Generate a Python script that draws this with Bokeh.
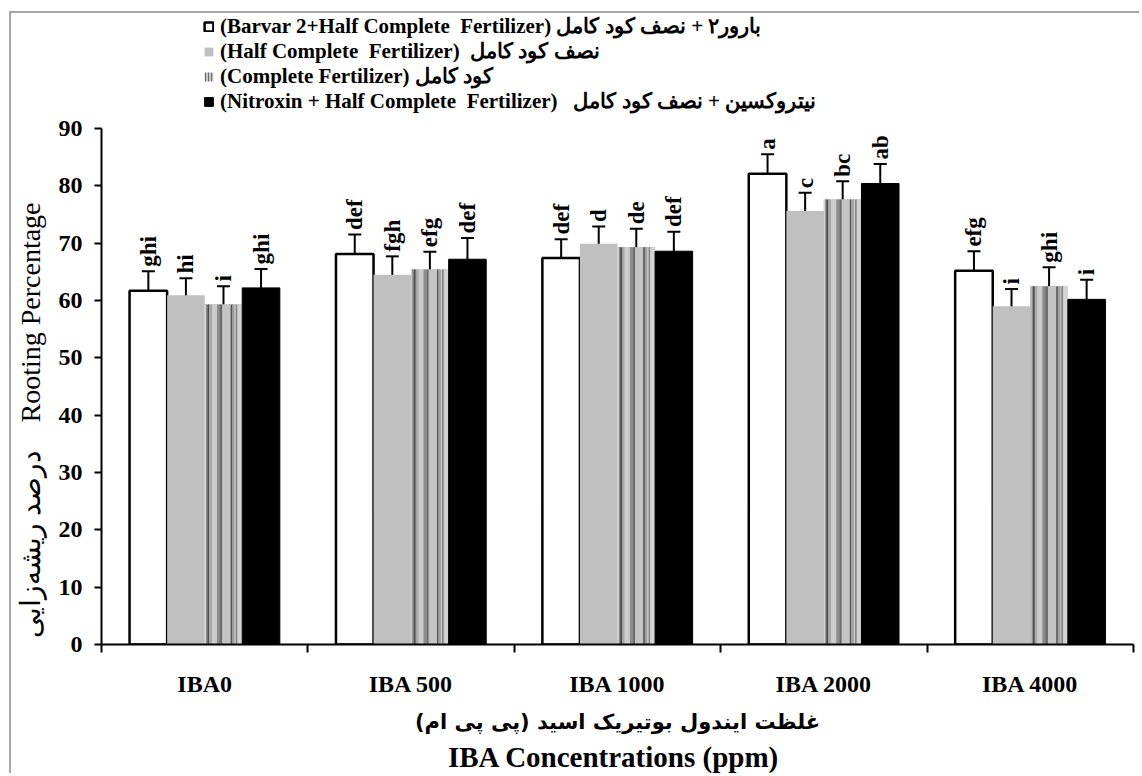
from math import pi
from bokeh.plotting import figure
from bokeh.models import (ColumnDataSource, Range1d, LinearAxis, FixedTicker, Whisker, TeeHead,
                          Legend, LegendItem)
from bokeh.transform import dodge
from bokeh.core.properties import value
from bokeh.embed import file_html
from bokeh.resources import INLINE

# ---------------- data ----------------
categories = ["IBA0", "IBA 500", "IBA 1000", "IBA 2000", "IBA 4000"]

barvar_half = [61.7, 68.1, 67.4, 82.1, 65.2]
half_complete = [60.9, 64.5, 69.9, 75.6, 59.0]
complete = [59.3, 65.4, 69.3, 77.6, 62.5]
nitroxin_half = [62.2, 67.2, 68.6, 80.4, 60.2]

err_barvar_half = [3.4, 3.4, 3.3, 3.4, 3.4]
err_half_complete = [3.0, 3.2, 3.0, 3.2, 3.0]
err_complete = [3.2, 3.1, 3.2, 3.2, 3.3]
err_nitroxin_half = [3.3, 3.7, 3.4, 3.4, 3.4]

letters_barvar_half = ["ghi", "def", "def", "a", "efg"]
letters_half_complete = ["hi", "fgh", "d", "c", "i"]
letters_complete = ["i", "efg", "de", "bc", "ghi"]
letters_nitroxin_half = ["ghi", "def", "def", "ab", "i"]

y_ticks = [0, 10, 20, 30, 40, 50, 60, 70, 80, 90]

legend_labels = [
    "(Barvar 2+Half Complete  Fertilizer) بارور۲ + نصف کود کامل",
    "(Half Complete  Fertilizer)  نصف کود کامل",
    "(Complete Fertilizer) کود کامل",
    "(Nitroxin + Half Complete  Fertilizer)   نیتروکسین + نصف کود کامل",
]
y_title_fa = "درصد ریشه\u200cزایی"
y_title_en = "Rooting Percentage"
x_title_fa = "غلظت ایندول بوتیریک اسید (پی پی ام)"
x_title_en = "IBA  Concentrations (ppm)"

# ---------------- styling constants ----------------
SERIF = "Liberation Serif"
ARABIC = "DejaVu Sans"
BW = 0.182
OFFSETS = [-0.273, -0.091, 0.091, 0.273]
GAP = 0.8           # data units between error bar top and its letter
Y_VIEW_TOP = 110.06  # room above the 0-90 axis for the legend

series = [barvar_half, half_complete, complete, nitroxin_half]
errors = [err_barvar_half, err_half_complete, err_complete, err_nitroxin_half]
letters = [letters_barvar_half, letters_half_complete, letters_complete, letters_nitroxin_half]

centres = [i + 0.5 for i in range(len(categories))]
bounds = list(range(len(categories) + 1))

data = dict(xc=centres, cat=categories)
for k in range(4):
    data[f"v{k}"] = series[k]
    data[f"up{k}"] = [v + e for v, e in zip(series[k], errors[k])]
    data[f"lo{k}"] = [v - e for v, e in zip(series[k], errors[k])]
    data[f"ly{k}"] = [v + e + GAP for v, e in zip(series[k], errors[k])]
    data[f"t{k}"] = letters[k]
src = ColumnDataSource(data)

p = figure(x_range=Range1d(0, len(categories)), y_range=Range1d(0, Y_VIEW_TOP),
           width=1130, height=762, output_backend="svg", toolbar_location=None,
           x_axis_location=None,
           min_border_left=90, min_border_right=8, min_border_top=0, min_border_bottom=131)
p.styles = {"margin-left": "9px", "margin-top": "11px",
            "border-left": "2px solid #a6a6a6", "border-top": "2px solid #a6a6a6"}
p.xgrid.grid_line_color = None
p.ygrid.grid_line_color = None
p.outline_line_color = None
p.background_fill_color = "white"
p.border_fill_color = "white"

# y axis
yax = p.yaxis[0]
yax.ticker = FixedTicker(ticks=y_ticks, minor_ticks=[])
yax.bounds = (y_ticks[0], y_ticks[-1])
yax.major_tick_out = 7
yax.major_tick_in = 0
yax.axis_line_width = 2
yax.major_tick_line_width = 2
yax.axis_line_color = "black"
yax.major_tick_line_color = "black"
yax.major_label_text_font = SERIF
yax.major_label_text_font_style = "bold"
yax.major_label_text_font_size = "24px"
yax.major_label_text_color = "black"
yax.major_label_standoff = 12
yax.axis_label = y_title_fa + "\u00a0" * 4 + y_title_en + "\u00a0" * 26
yax.axis_label_text_font = SERIF
yax.axis_label_text_font_style = "normal"
yax.axis_label_text_font_size = "28px"
yax.axis_label_text_color = "black"
yax.axis_label_standoff = 10

# x axis: category labels at centres, boundary ticks as minor ticks, Persian title
cat_axis = LinearAxis(ticker=FixedTicker(ticks=centres, minor_ticks=bounds),
                      major_label_overrides={c: n for c, n in zip(centres, categories)},
                      axis_line_color="black", axis_line_width=2,
                      major_tick_line_color=None, major_tick_out=8, major_tick_in=0,
                      minor_tick_line_color="black", minor_tick_line_width=2,
                      minor_tick_out=8, minor_tick_in=0,
                      major_label_standoff=18, major_label_text_font=SERIF,
                      major_label_text_font_style="bold", major_label_text_font_size="24px",
                      major_label_text_color="black",
                      axis_label=x_title_fa, axis_label_text_font=ARABIC,
                      axis_label_text_font_style="bold", axis_label_text_font_size="21px",
                      axis_label_text_color="black", axis_label_standoff=10)
p.add_layout(cat_axis, "below")
title_axis = LinearAxis(ticker=FixedTicker(ticks=[], minor_ticks=[]),
                        axis_line_color=None, major_tick_line_color=None, minor_tick_line_color=None,
                        major_tick_out=0, major_label_standoff=0,
                        axis_label=x_title_en, axis_label_text_font=SERIF,
                        axis_label_text_font_style="bold", axis_label_text_font_size="29px",
                        axis_label_text_color="black", axis_label_standoff=4)
p.add_layout(title_axis, "below")

# bars
r_white = p.vbar(x=dodge("xc", OFFSETS[0]), top="v0", width=BW, source=src,
                 fill_color="white", line_color="black", line_width=2.5)
r_gray = p.vbar(x=dodge("xc", OFFSETS[1]), top="v1", width=BW, source=src,
                fill_color="#c0c0c0", line_color=None)
r_striped = p.vbar(x=dodge("xc", OFFSETS[2]), top="v2", width=BW, source=src,
                   fill_color="#c8c8c8", hatch_pattern="vertical_line", hatch_color="#6a6a6a",
                   hatch_scale=3, hatch_weight=1, line_color=None)
stripes = [
    (0.00, 0.035, "#d0d0d0"), (0.035, 0.07, "#909090"), (0.07, 0.12, "#4c4c4c"),
    (0.12, 0.19, "#a8a8a8"), (0.19, 0.33, "#cccccc"), (0.33, 0.41, "#8c8c8c"),
    (0.41, 0.47, "#6a6a6a"), (0.47, 0.69, "#c4c4c4"), (0.69, 0.73, "#555555"),
    (0.73, 0.80, "#a0a0a0"), (0.80, 0.83, "#d8d8d8"), (0.83, 0.87, "#7a7a7a"),
    (0.87, 1.00, "#d4d4d4"),
]
for s, e, c in stripes:
    off = OFFSETS[2] - BW / 2 + (s + e) / 2 * BW
    p.vbar(x=dodge("xc", off), top="v2", width=(e - s) * BW, source=src,
           fill_color=c, line_color=None)
r_black = p.vbar(x=dodge("xc", OFFSETS[3]), top="v3", width=BW, source=src,
                 fill_color="black", line_color="black", line_width=1)

# error bars
for k in range(4):
    w = Whisker(source=src, base=dodge("xc", OFFSETS[k]),
                upper=f"up{k}", lower=f"lo{k}", line_width=2, line_color="black",
                upper_head=TeeHead(size=13, line_width=2, line_color="black"),
                lower_head=TeeHead(size=13, line_width=2, line_color="black"))
    p.add_layout(w)

# significance letters
for k in range(4):
    p.text(x=dodge("xc", OFFSETS[k]), y=f"ly{k}", text=f"t{k}", source=src,
           angle=pi / 2, text_align="left", text_baseline="middle",
           text_font=value(SERIF), text_font_style="bold", text_font_size="23px", text_color="black")

# legend (inside the frame, above the 0-90 axis)
items = [LegendItem(label=legend_labels[0], renderers=[r_white]),
         LegendItem(label=legend_labels[1], renderers=[r_gray]),
         LegendItem(label=legend_labels[2], renderers=[r_striped]),
         LegendItem(label=legend_labels[3], renderers=[r_black])]
legend = Legend(items=items, location=(102, 530), orientation="vertical", padding=0, spacing=0, margin=0,
                label_height=24, glyph_height=11, glyph_width=11, label_standoff=6,
                label_text_font=SERIF, label_text_font_style="bold", label_text_font_size="21px",
                label_text_color="black", border_line_color=None, background_fill_alpha=0)
p.add_layout(legend)

open("out.html", "w").write(file_html(p, INLINE))
